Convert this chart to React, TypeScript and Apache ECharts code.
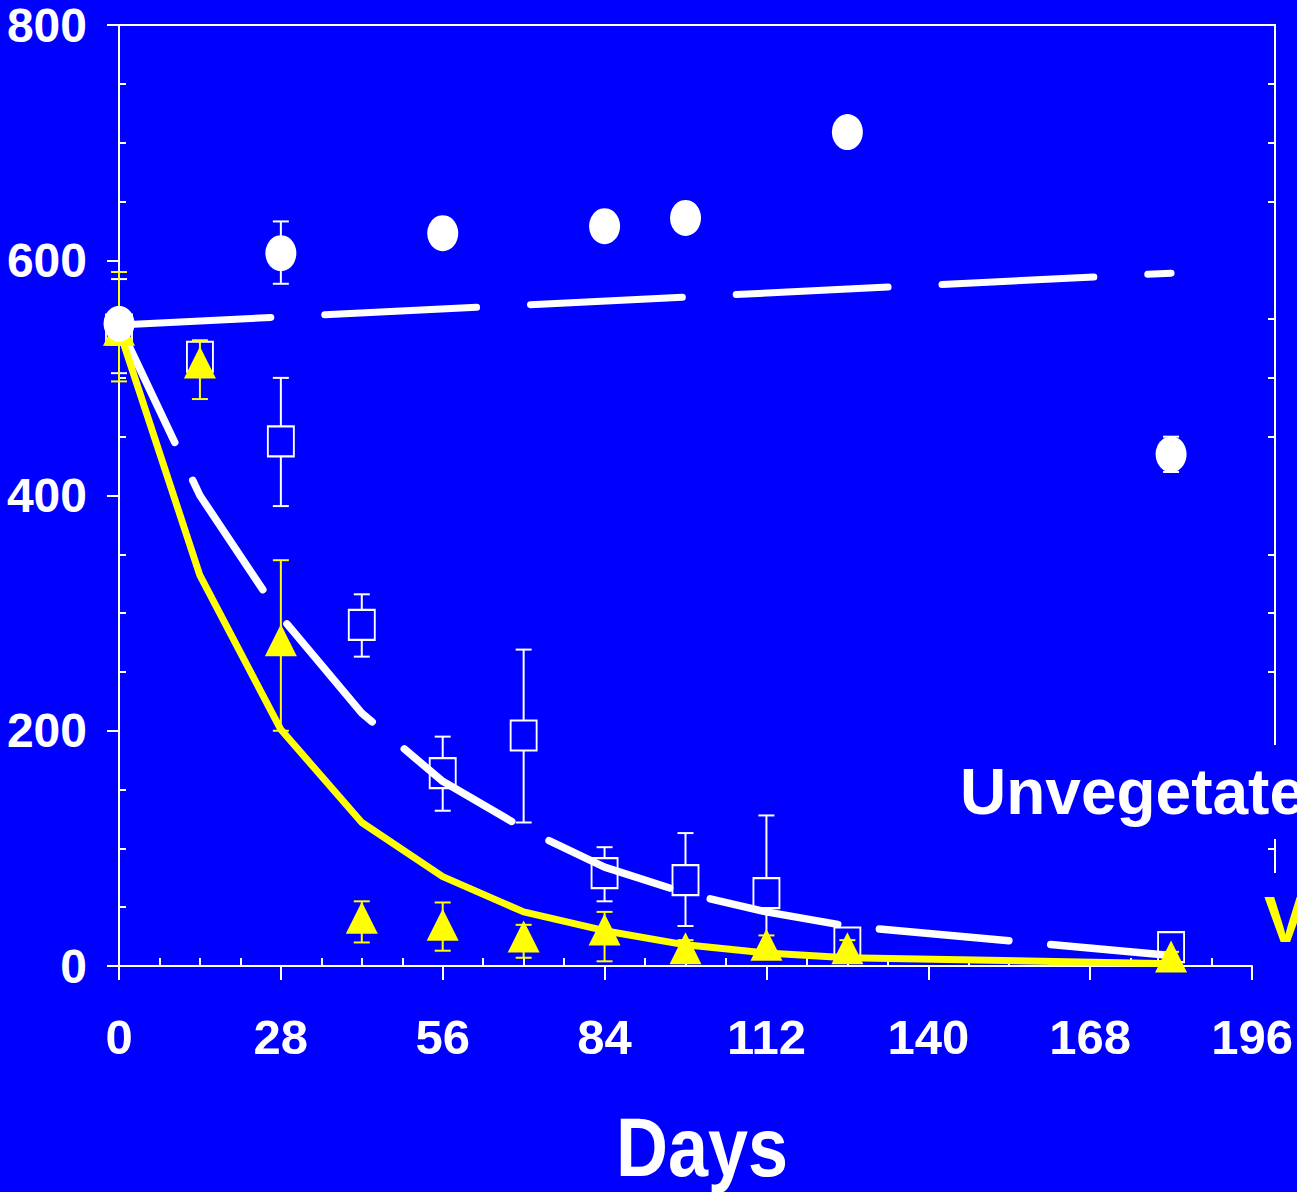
import React, { useEffect, useRef } from "react";
import * as echarts from "echarts";

// ---- data ----
const DAYS = [0, 14, 28, 42, 56, 70, 84, 98, 112, 126, 182];

const CIRCLE_DAYS = [0, 28, 56, 84, 98, 126, 182];
const CIRCLE_VALUES = [546, 606, 623, 629, 636, 709, 435];
const CIRCLE_ERR_DAYS = [28, 182];
const CIRCLE_ERR_LOW = [580, 420];
const CIRCLE_ERR_HIGH = [633, 450];

const SQUARE_VALUES = [541, 518, 446, 290, 164, 196, 79, 73, 62, 20, 16];
const SQUARE_ERR_LOW = [504, 510, 391, 263, 132, 122, 55, 34, 8, 12, 10];
const SQUARE_ERR_HIGH = [584, 526, 500, 316, 195, 269, 101, 113, 128, 28, 22];

const TRIANGLE_VALUES = [541, 513, 277, 41, 35, 25, 31, 15, 18, 15, 8];
const TRIANGLE_ERR_LOW = [497, 482, 200, 20, 13, 7, 4, 8, 10, 8, 4];
const TRIANGLE_ERR_HIGH = [590, 532, 345, 55, 54, 35, 46, 22, 26, 22, 12];

const WHITE_FIT = [545, 400, 297, 215, 157, 117, 84, 62, 46, 34, 9];
const YELLOW_FIT = [541, 332, 201, 122, 76, 46, 30, 18, 11, 7, 2];
const TOP_FIT_DAYS = [0, 182];
const TOP_FIT_VALUES = [545, 589];

const X_MINOR_TICKS = [7, 14, 21, 35, 42, 49, 63, 70, 77, 91, 98, 105, 119, 126, 133, 147, 154, 161, 175, 182, 189];
const Y_MINOR_TICKS = [50, 100, 150, 250, 300, 350, 450, 500, 550, 650, 700, 750];

const LABEL_UNVEG = "Unvegetated";
const LABEL_VEG = "Vegetated";
const X_TITLE = "Days";

const BLUE = "#0000FF";
const WHITE = "#FFFFFF";
const YELLOW = "#FFFF00";
const FONT = "'Liberation Sans', Arial, sans-serif";

function errRender(color: string) {
  return (params: any, api: any) => {
    const x = api.value(0);
    const lo = api.coord([x, api.value(1)]);
    const hi = api.coord([x, api.value(2)]);
    const hw = 8;
    const style = { stroke: color, lineWidth: 2 };
    return {
      type: "group",
      children: [
        { type: "line", shape: { x1: lo[0], y1: lo[1], x2: hi[0], y2: hi[1] }, style },
        { type: "line", shape: { x1: lo[0] - hw, y1: lo[1], x2: lo[0] + hw, y2: lo[1] }, style },
        { type: "line", shape: { x1: hi[0] - hw, y1: hi[1], x2: hi[0] + hw, y2: hi[1] }, style },
      ],
    };
  };
}

export default function App() {
  const ref = useRef<HTMLDivElement>(null);

  useEffect(() => {
    document.body.style.margin = "0";
    const chart = echarts.init(ref.current!, undefined, { renderer: "svg" });

    const pair = (xs: number[], ys: number[]) => xs.map((x, i) => [x, ys[i]]);
    const tri = (xs: number[], a: number[], b: number[]) => xs.map((x, i) => [x, a[i], b[i]]);

    const baseX = { type: "value", min: 0, max: 196, interval: 28, gridIndex: 0 };
    const baseY = { type: "value", min: 0, max: 800, interval: 200, gridIndex: 0 };

    chart.setOption({
      animation: false,
      backgroundColor: BLUE,
      grid: { left: 119, right: 45, top: 25, bottom: 226 },
      xAxis: [
        {
          ...baseX,
          position: "bottom",
          axisLine: { show: true, lineStyle: { color: WHITE, width: 2 } },
          axisTick: { show: true, inside: false, length: 14, lineStyle: { color: WHITE, width: 2 } },
          axisLabel: { color: WHITE, fontSize: 49, fontWeight: "bold", fontFamily: FONT, margin: 46 },
          splitLine: { show: false },
        },
        {
          ...baseX,
          position: "bottom",
          axisLine: { show: false },
          axisTick: { show: true, inside: true, length: 8, customValues: X_MINOR_TICKS, lineStyle: { color: WHITE, width: 2 } },
          axisLabel: { show: false },
          splitLine: { show: false },
        },
      ],
      yAxis: [
        {
          ...baseY,
          position: "left",
          axisLine: { show: true, lineStyle: { color: WHITE, width: 2 } },
          axisTick: { show: true, inside: false, length: 12, lineStyle: { color: WHITE, width: 2 } },
          axisLabel: { color: WHITE, fontSize: 48, fontWeight: "bold", fontFamily: FONT, margin: 32 },
          splitLine: { show: false },
        },
        {
          ...baseY,
          position: "left",
          axisLine: { show: false },
          axisTick: { show: true, inside: true, length: 7, customValues: Y_MINOR_TICKS, lineStyle: { color: WHITE, width: 2 } },
          axisLabel: { show: false },
          splitLine: { show: false },
        },
        {
          ...baseY,
          position: "right",
          offset: 23,
          axisLine: { show: true, lineStyle: { color: WHITE, width: 2 } },
          axisTick: { show: true, inside: true, length: 7, customValues: Y_MINOR_TICKS, lineStyle: { color: WHITE, width: 2 } },
          axisLabel: { show: false },
          splitLine: { show: false },
        },
      ],
      series: [
        {
          name: "square error",
          type: "custom",
          renderItem: errRender(WHITE),
          data: tri(DAYS, SQUARE_ERR_LOW, SQUARE_ERR_HIGH),
          encode: { x: 0, y: [1, 2] },
          z: 2,
        },
        {
          name: "Unvegetated (squares)",
          type: "scatter",
          data: pair(DAYS, SQUARE_VALUES),
          symbol: "rect",
          symbolSize: [26, 30],
          itemStyle: { color: BLUE, borderColor: WHITE, borderWidth: 2, opacity: 1 },
          z: 3,
        },
        {
          name: "Unvegetated fit",
          type: "line",
          data: pair(DAYS, WHITE_FIT),
          showSymbol: false,
          symbol: "none",
          lineStyle: { color: WHITE, width: 7.5, type: [130, 42], cap: "round", join: "round", opacity: 1 },
          z: 4,
        },
        {
          name: "Control fit",
          type: "line",
          data: pair(TOP_FIT_DAYS, TOP_FIT_VALUES),
          showSymbol: false,
          symbol: "none",
          lineStyle: { color: WHITE, width: 7, type: [152, 54], cap: "round", opacity: 1 },
          z: 4,
        },
        {
          name: "Vegetated fit",
          type: "line",
          data: pair(DAYS, YELLOW_FIT),
          showSymbol: false,
          symbol: "none",
          lineStyle: { color: YELLOW, width: 7, join: "round", opacity: 1 },
          z: 5,
        },
        {
          name: "triangle error",
          type: "custom",
          renderItem: errRender(YELLOW),
          data: tri(DAYS, TRIANGLE_ERR_LOW, TRIANGLE_ERR_HIGH),
          encode: { x: 0, y: [1, 2] },
          z: 6,
        },
        {
          name: "Vegetated (triangles)",
          type: "scatter",
          data: pair(DAYS, TRIANGLE_VALUES),
          symbol: "triangle",
          symbolSize: [32, 32],
          itemStyle: { color: YELLOW, opacity: 1 },
          z: 7,
        },
        {
          name: "circle error",
          type: "custom",
          renderItem: errRender(WHITE),
          data: tri(CIRCLE_ERR_DAYS, CIRCLE_ERR_LOW, CIRCLE_ERR_HIGH),
          encode: { x: 0, y: [1, 2] },
          z: 8,
        },
        {
          name: "Control (circles)",
          type: "scatter",
          data: pair(CIRCLE_DAYS, CIRCLE_VALUES),
          symbol: "circle",
          symbolSize: [31, 36],
          itemStyle: { color: WHITE, opacity: 1 },
          z: 9,
        },
      ],
      graphic: [
        {
          type: "line",
          z: 100,
          shape: { x1: 119, y1: 25, x2: 1276, y2: 25 },
          style: { stroke: WHITE, lineWidth: 2 },
        },
        {
          type: "rect",
          z: 100,
          shape: { x: 952, y: 745, width: 345, height: 94 },
          style: { fill: BLUE },
        },
        {
          type: "text",
          z: 101,
          x: 960,
          y: 792,
          style: {
            text: LABEL_UNVEG,
            fill: WHITE,
            font: `bold 64px ${FONT}`,
            align: "left",
            verticalAlign: "middle",
          },
        },
        {
          type: "rect",
          z: 100,
          shape: { x: 1258, y: 873, width: 39, height: 95 },
          style: { fill: BLUE },
        },
        {
          type: "text",
          z: 101,
          x: 1264,
          y: 920,
          style: {
            text: LABEL_VEG,
            fill: YELLOW,
            font: `bold 64px ${FONT}`,
            align: "left",
            verticalAlign: "middle",
          },
        },
        {
          type: "text",
          z: 101,
          x: 702,
          y: 1147,
          scaleY: 1.15,
          style: {
            text: X_TITLE,
            fill: WHITE,
            font: `bold 72px ${FONT}`,
            align: "center",
            verticalAlign: "middle",
          },
        },
      ],
    });

    return () => chart.dispose();
  }, []);

  return <div ref={ref} style={{ position: "fixed", left: 0, top: 0, width: 1297, height: 1192 }} />;
}
